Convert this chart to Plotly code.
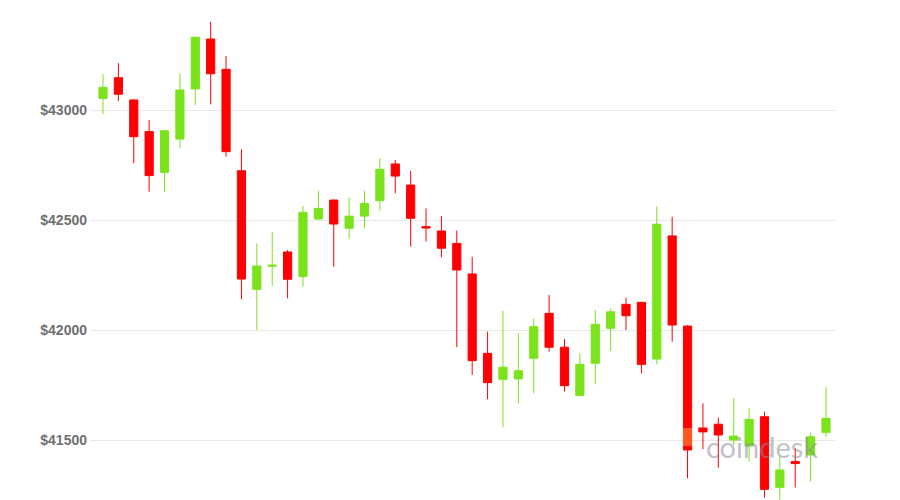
import plotly.graph_objects as go

# ---- data ----
candle_index = list(range(48))
open_prices = [43055, 43149, 43048, 42904, 42719, 42870, 43098, 43325, 43187, 42726,
               42187, 42292, 42357, 42245, 42507, 42593, 42465, 42520, 42590, 42757,
               42661, 42472, 42452, 42396, 42257, 41896, 41778, 41780, 41874, 42078,
               41924, 41704, 41851, 42010, 42119, 42128, 41870, 42430, 42020, 41557,
               41574, 41502, 41475, 41608, 41287, 41404, 41434, 41537]
high_prices = [43165, 43215, 43050, 42957, 42910, 43169, 43335, 43404, 43248, 42824,
               42396, 42449, 42366, 42566, 42635, 42595, 42605, 42635, 42783, 42775,
               42726, 42555, 42520, 42454, 42335, 41995, 42090, 41987, 42055, 42161,
               41961, 41896, 42093, 42101, 42149, 42130, 42563, 42517, 42025, 41669,
               41604, 41692, 41646, 41631, 41430, 41465, 41535, 41742]
low_prices = [42984, 43043, 42760, 42631, 42631, 42828, 43025, 43028, 42790, 42142,
              42002, 42202, 42146, 42199, 42502, 42290, 42415, 42465, 42545, 42624,
              42381, 42404, 42333, 41924, 41798, 41687, 41560, 41669, 41715, 41904,
              41722, 41704, 41755, 41907, 42002, 41805, 41846, 41949, 41328, 41461,
              41376, 41479, 41404, 41239, 41230, 41287, 41313, 41517]
close_prices = [43105, 43074, 42881, 42704, 42908, 43093, 43333, 43167, 42813, 42234,
                42293, 42297, 42233, 42537, 42555, 42484, 42520, 42578, 42733, 42702,
                42510, 42466, 42374, 42275, 41863, 41763, 41833, 41817, 42017, 41924,
                41749, 41846, 42028, 42085, 42067, 41846, 42483, 42025, 41457, 41539,
                41525, 41520, 41596, 41278, 41366, 41395, 41517, 41601]

tick_values = [41500, 42000, 42500, 43000]
tick_labels = ["$41500", "$42000", "$42500", "$43000"]

GREEN = "#7be31c"
RED = "#ff0000"

fig = go.Figure(go.Candlestick(
    x=candle_index, open=open_prices, high=high_prices, low=low_prices, close=close_prices,
    increasing=dict(fillcolor=GREEN, line=dict(color=GREEN, width=1)),
    decreasing=dict(fillcolor=RED, line=dict(color=RED, width=1)),
    whiskerwidth=0,
    hoverinfo="skip",
))

fig.update_layout(
    width=900, height=500,
    margin=dict(l=90, r=65, t=0, b=0),
    paper_bgcolor="white", plot_bgcolor="white",
    showlegend=False,
    boxgap=0.24,
    font=dict(family="Liberation Sans, Arial, sans-serif", size=14, color="#707070"),
    xaxis=dict(range=[-0.845, 47.585], visible=False, rangeslider=dict(visible=False),
               showgrid=False, zeroline=False),
    yaxis=dict(range=[41229.5, 43502.3], tickvals=tick_values, ticktext=tick_labels,
               tickfont=dict(weight="bold"),
               showgrid=True, gridcolor="#e8e8e8", gridwidth=1, zeroline=False,
               showline=False, ticks="", ticklabelstandoff=2),
    annotations=[
        dict(xref="paper", yref="paper", x=(762 - 90) / 745, y=1 - 446 / 500,
             xanchor="center", yanchor="middle",
             text="coindesk", showarrow=False,
             font=dict(family="Lato, Open Sans, sans-serif", size=29, color="rgba(140,140,155,0.55)")),
    ],
    shapes=[
        dict(type="rect", xref="paper", yref="paper",
             x0=(683 - 90) / 745, x1=(692 - 90) / 745, y0=1 - 446 / 500, y1=1 - 428 / 500,
             fillcolor="rgba(255,160,60,0.55)", line=dict(width=0), layer="above"),
    ],
)

fig.write_html("out.html", config={"displayModeBar": False},
               post_script="document.body.style.margin='0';")
